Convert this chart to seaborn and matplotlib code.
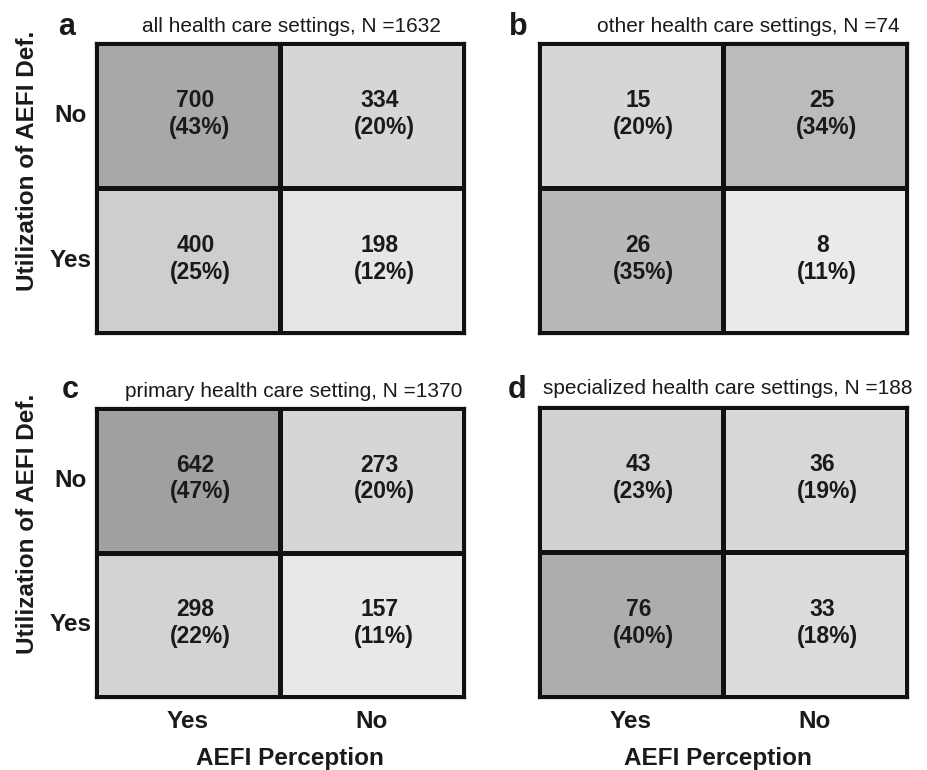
import numpy as np
import pandas as pd
import matplotlib
matplotlib.use("Agg")
import matplotlib.pyplot as plt
from matplotlib.colors import LinearSegmentedColormap
import seaborn as sns

# Categories
perception = ["Yes", "No"]          # columns: AEFI perception
utilization = ["No", "Yes"]         # rows: utilization of AEFI definition

# Panels
panel_letters = ["a", "b", "c", "d"]
panel_titles = [
    "all health care settings",
    "other health care settings",
    "primary health care setting",
    "specialized health care settings",
]

# Counts per panel (rows = utilization No/Yes, columns = perception Yes/No)
counts_all = [[700, 334], [400, 198]]
counts_other = [[15, 25], [26, 8]]
counts_primary = [[642, 273], [298, 157]]
counts_specialized = [[43, 36], [76, 33]]

panel_counts = [counts_all, counts_other, counts_primary, counts_specialized]

sns.set_theme(style="white")
plt.rcParams["font.family"] = ["Liberation Sans", "DejaVu Sans"]

ink = "#1a1a1a"
cmap = LinearSegmentedColormap.from_list("shade", ["#ffffff", "#343434"])

W, H = 928, 770
fig = plt.figure(figsize=(W / 100, H / 100), dpi=100)

# axes boxes in pixels: left, top, right, bottom
boxes = [(96, 43, 464, 333), (539, 43, 907, 333),
         (96, 408, 464, 697), (539, 407, 907, 697)]
title_pos = [(291, 32), (748, 32), (294, 397), (728, 394)]
letter_pos = [(67, 35), (518, 35), (70, 398), (517, 398)]


def fx(px):
    return px / W


def fy(py):
    return 1 - py / H


for k in range(4):
    l, t, r, b = boxes[k]
    ax = fig.add_axes([fx(l), fy(b), fx(r) - fx(l), fy(t) - fy(b)])
    counts = np.array(panel_counts[k], dtype=float)
    total = int(counts.sum())
    frac = counts / counts.sum()
    df = pd.DataFrame(frac, index=utilization, columns=perception)

    left_col = k in (0, 2)
    bottom_row = k in (2, 3)
    sns.heatmap(df, ax=ax, cmap=cmap, vmin=0, vmax=1, cbar=False,
                linewidths=2.3, linecolor="#111111",
                xticklabels=perception if bottom_row else False,
                yticklabels=utilization if left_col else False)

    for s in ax.spines.values():
        s.set_visible(True)
        s.set_color("#111111")
        s.set_linewidth(2.3)

    ax.tick_params(axis="both", length=0, labelsize=17.5, colors=ink)
    ax.tick_params(axis="x", pad=9)
    ax.tick_params(axis="y", pad=18.5)
    if left_col:
        ax.set_yticklabels(utilization, rotation=0, ha="center")
    for lab in ax.get_xticklabels() + ax.get_yticklabels():
        lab.set_fontweight("bold")
        lab.set_color(ink)
    ax.set_xlabel("")
    ax.set_ylabel("")

    for i in range(2):
        for j in range(2):
            n = int(counts[i, j])
            pct = int(round(frac[i, j] * 100))
            ax.text(j + 0.54, i + 0.44, f"{n}", ha="center", va="baseline",
                    fontsize=16.5, fontweight="bold", color=ink)
            ax.text(j + 0.565, i + 0.625, f"({pct}%)", ha="center", va="baseline",
                    fontsize=16.5, fontweight="bold", color=ink)

    tx, ty = title_pos[k]
    fig.text(fx(tx), fy(ty), f"{panel_titles[k]}, N ={total}", ha="center",
             va="baseline", fontsize=15, color=ink)
    lx, ly = letter_pos[k]
    fig.text(fx(lx), fy(ly), panel_letters[k], ha="center", va="baseline",
             fontsize=22, fontweight="bold", color=ink)

# shared axis titles
for cy in (161, 524):
    fig.text(fx(28), fy(cy), "Utilization of AEFI Def.", rotation=90,
             ha="center", va="center", fontsize=17.5, fontweight="bold", color=ink)
for cx in (290, 718):
    fig.text(fx(cx), fy(765), "AEFI Perception", ha="center", va="baseline",
             fontsize=17.5, fontweight="bold", color=ink)

fig.savefig("out.png", dpi=100, facecolor="white")
